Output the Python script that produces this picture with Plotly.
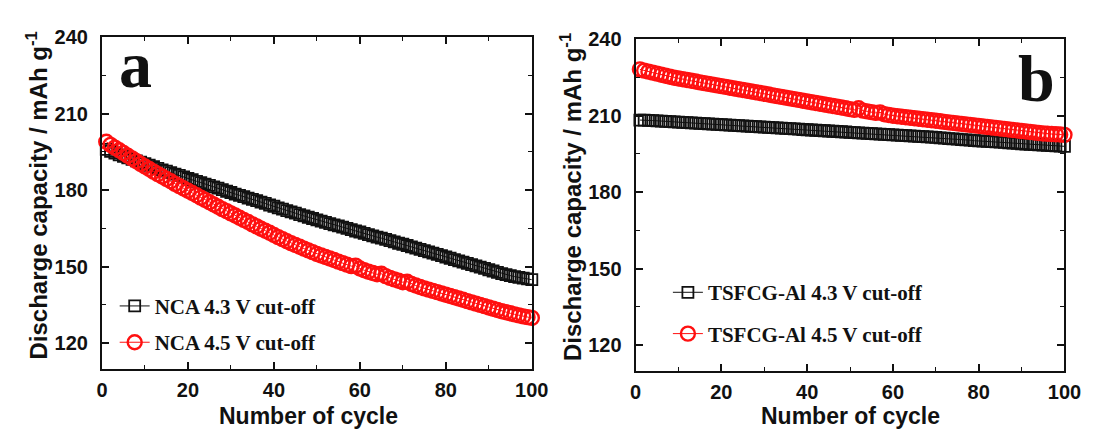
import plotly.graph_objects as go

cycles = list(range(1, 101))

nca_43 = [196.0, 195.3, 194.6, 193.9, 193.3, 192.7, 192.1, 191.5, 191.0, 190.4,
          189.8, 189.2, 188.6, 188.0, 187.5, 186.9, 186.3, 185.8, 185.2, 184.6,
          184.1, 183.5, 183.0, 182.4, 181.9, 181.3, 180.8, 180.2, 179.6, 179.1,
          178.5, 178.0, 177.5, 176.9, 176.4, 175.9, 175.3, 174.8, 174.2, 173.7,
          173.1, 172.6, 172.0, 171.5, 171.0, 170.4, 169.9, 169.4, 168.9, 168.4,
          167.9, 167.4, 166.9, 166.4, 166.0, 165.5, 165.0, 164.5, 164.0, 163.6,
          163.1, 162.6, 162.1, 161.6, 161.2, 160.7, 160.2, 159.7, 159.2, 158.8,
          158.3, 157.8, 157.3, 156.8, 156.3, 155.8, 155.3, 154.8, 154.3, 153.8,
          153.3, 152.8, 152.3, 151.8, 151.3, 150.8, 150.3, 149.8, 149.3, 148.8,
          148.3, 147.8, 147.3, 146.9, 146.5, 146.1, 145.8, 145.5, 145.2, 144.9]

nca_45 = [199.0, 197.8, 196.7, 195.7, 194.6, 193.5, 192.5, 191.4, 190.3, 189.3,
          188.3, 187.3, 186.3, 185.4, 184.4, 183.5, 182.5, 181.6, 180.7, 179.8,
          178.9, 178.0, 177.1, 176.2, 175.3, 174.4, 173.5, 172.6, 171.8, 170.9,
          170.1, 169.2, 168.3, 167.5, 166.6, 165.8, 164.9, 164.1, 163.3, 162.4,
          161.6, 160.8, 160.0, 159.2, 158.5, 157.8, 157.1, 156.4, 155.7, 155.0,
          154.4, 153.8, 153.2, 152.6, 152.0, 151.4, 150.8, 150.2, 150.4, 149.3,
          148.6, 148.0, 147.5, 147.0, 147.2, 146.3, 145.6, 145.0, 144.5, 143.9,
          144.1, 143.2, 142.6, 142.0, 141.5, 141.0, 140.5, 140.0, 139.5, 139.0,
          138.5, 138.0, 137.5, 137.0, 136.5, 136.0, 135.5, 135.0, 134.5, 134.0,
          133.5, 133.0, 132.5, 132.1, 131.7, 131.3, 130.9, 130.5, 130.2, 129.9]

tsfcg_43 = [208.3, 208.3, 208.2, 208.1, 208.0, 207.9, 207.8, 207.7, 207.6, 207.5,
            207.4, 207.3, 207.2, 207.1, 207.0, 206.9, 206.8, 206.7, 206.6, 206.5,
            206.4, 206.3, 206.2, 206.1, 206.0, 205.9, 205.8, 205.7, 205.6, 205.5,
            205.4, 205.3, 205.2, 205.1, 205.0, 204.9, 204.8, 204.7, 204.6, 204.5,
            204.4, 204.3, 204.2, 204.1, 204.0, 203.9, 203.8, 203.7, 203.6, 203.5,
            203.4, 203.3, 203.2, 203.1, 203.0, 202.9, 202.8, 202.7, 202.6, 202.5,
            202.4, 202.3, 202.2, 202.1, 202.0, 201.9, 201.8, 201.7, 201.6, 201.5,
            201.3, 201.2, 201.0, 200.9, 200.8, 200.6, 200.5, 200.4, 200.2, 200.1,
            200.0, 199.9, 199.8, 199.7, 199.6, 199.5, 199.4, 199.3, 199.2, 199.0,
            198.9, 198.8, 198.7, 198.6, 198.5, 198.4, 198.3, 198.2, 198.1, 198.0]

tsfcg_45 = [228.2, 227.7, 227.3, 226.9, 226.5, 226.1, 225.7, 225.3, 224.9, 224.6,
            224.3, 224.0, 223.7, 223.4, 223.1, 222.8, 222.5, 222.2, 221.9, 221.6,
            221.3, 221.0, 220.7, 220.4, 220.1, 219.8, 219.5, 219.2, 218.9, 218.6,
            218.3, 218.0, 217.7, 217.4, 217.1, 216.8, 216.5, 216.2, 215.9, 215.6,
            215.3, 215.0, 214.7, 214.4, 214.1, 213.8, 213.5, 213.2, 212.9, 212.6,
            212.3, 212.9, 212.0, 211.7, 211.4, 211.1, 211.3, 210.6, 210.3, 210.0,
            209.8, 209.6, 209.4, 209.2, 209.0, 208.8, 208.6, 208.4, 208.2, 208.0,
            207.8, 207.6, 207.4, 207.2, 207.0, 206.8, 206.6, 206.4, 206.2, 206.0,
            205.8, 205.6, 205.4, 205.2, 205.0, 204.8, 204.6, 204.4, 204.2, 204.0,
            203.8, 203.6, 203.4, 203.2, 203.0, 202.9, 202.8, 202.7, 202.6, 202.5]

x_ticks = [0, 20, 40, 60, 80, 100]
y_ticks = [120, 150, 180, 210, 240]
y_minor = [135, 165, 195, 225]
names_a = ["NCA 4.3 V cut-off", "NCA 4.5 V cut-off"]
names_b = ["TSFCG-Al 4.3 V cut-off", "TSFCG-Al 4.5 V cut-off"]

W, H = 1103, 430
BLACK = "#111111"
RED = "#ff1010"

def px_x(v):
    return v / W

def px_y(v):
    return 1 - v / H

fig = go.Figure()

def add_pair(ys43, ys45, names, xa, ya, legend):
    fig.add_trace(go.Scatter(
        x=cycles, y=ys43, name=names[0], mode="lines+markers",
        xaxis=xa, yaxis=ya, legend=legend, legendgroup=legend + "1",
        line=dict(color=BLACK, width=1),
        marker=dict(symbol="square-open", size=11, color=BLACK, line=dict(width=1.8, color=BLACK)),
        cliponaxis=False))
    fig.add_trace(go.Scatter(
        x=cycles, y=ys45, name=names[1], mode="lines+markers",
        xaxis=xa, yaxis=ya, legend=legend, legendgroup=legend + "2",
        line=dict(color=RED, width=1),
        marker=dict(symbol="circle-open", size=14, color=RED, line=dict(width=2.4, color="#e80000")),
        cliponaxis=False))

add_pair(nca_43, nca_45, names_a, "x", "y", "legend")
add_pair(tsfcg_43, tsfcg_45, names_b, "x2", "y2", "legend2")

tickfont = dict(family="Arial, Liberation Sans, sans-serif", size=20, color="#111111")

def xaxis(domain, anchor):
    return dict(domain=domain, anchor=anchor, range=[0, 100], tickvals=x_ticks,
                ticktext=["<b>%d</b>" % v for v in x_ticks],
                ticks="inside", ticklen=7, tickwidth=1.5, tickcolor=BLACK,
                minor=dict(dtick=10, ticks="inside", ticklen=4, tickwidth=1.2, tickcolor=BLACK),
                showline=True, linecolor=BLACK, linewidth=2, mirror="allticks",
                showgrid=False, zeroline=False, tickfont=tickfont, ticklabelstandoff=2)

def yaxis(domain, anchor):
    return dict(domain=domain, anchor=anchor, range=[110, 240], tickvals=y_ticks,
                ticktext=["<b>%d</b>" % v for v in y_ticks],
                ticks="inside", ticklen=7, tickwidth=1.5, tickcolor=BLACK,
                minor=dict(tickvals=y_minor, ticks="inside", ticklen=4, tickwidth=1.2, tickcolor=BLACK),
                showline=True, linecolor=BLACK, linewidth=2, mirror="allticks",
                showgrid=False, zeroline=False, tickfont=tickfont, ticklabelstandoff=8)

legfont = dict(family="Times New Roman, Liberation Serif, serif", size=21, color="#111111", weight="bold")

fig.update_layout(
    width=W, height=H,
    margin=dict(l=0, r=0, t=0, b=0),
    paper_bgcolor="white", plot_bgcolor="white",
    xaxis=xaxis([px_x(98), px_x(537)], "y"),
    yaxis=yaxis([px_y(367), px_y(27)], "x"),
    xaxis2=xaxis([px_x(643), px_x(1081)], "y2"),
    yaxis2=yaxis([px_y(369), px_y(29)], "x2"),
    legend=dict(x=px_x(111), y=px_y(282), xanchor="left", yanchor="top",
                bgcolor="rgba(0,0,0,0)", font=legfont, traceorder="grouped",
                tracegroupgap=6, itemwidth=30),
    legend2=dict(x=px_x(676), y=px_y(268), xanchor="left", yanchor="top",
                 bgcolor="rgba(0,0,0,0)", font=legfont, traceorder="grouped",
                 tracegroupgap=11, itemwidth=30),
    showlegend=True,
)

titlefont = dict(family="Arial, Liberation Sans, sans-serif", size=24, color="#111111", weight="bold")
xtitlefont = dict(family="Arial, Liberation Sans, sans-serif", size=23, color="#111111", weight="bold")
ytitle = "Discharge capacity / mAh g<sup>-1</sup>"
fig.add_annotation(text=ytitle, textangle=-90, xref="paper", yref="paper",
                   x=px_x(32), y=px_y(189), xanchor="center", yanchor="middle",
                   showarrow=False, font=titlefont)
fig.add_annotation(text=ytitle, textangle=-90, xref="paper", yref="paper",
                   x=px_x(577), y=px_y(191), xanchor="center", yanchor="middle",
                   showarrow=False, font=titlefont)
fig.add_annotation(text="Number of cycle", xref="paper", yref="paper",
                   x=px_x(309), y=px_y(416), xanchor="center", yanchor="middle",
                   showarrow=False, font=xtitlefont)
fig.add_annotation(text="Number of cycle", xref="paper", yref="paper",
                   x=px_x(862), y=px_y(416), xanchor="center", yanchor="middle",
                   showarrow=False, font=xtitlefont)

panelfont = dict(family="Times New Roman, Liberation Serif, serif", size=66, color="#111111", weight="bold")
fig.add_annotation(text="a", xref="paper", yref="paper", x=px_x(132), y=px_y(55),
                   xanchor="center", yanchor="middle", showarrow=False, font=panelfont)
fig.add_annotation(text="b", xref="paper", yref="paper", x=px_x(1052), y=px_y(69),
                   xanchor="center", yanchor="middle", showarrow=False, font=panelfont)

fig.write_html("out.html")
